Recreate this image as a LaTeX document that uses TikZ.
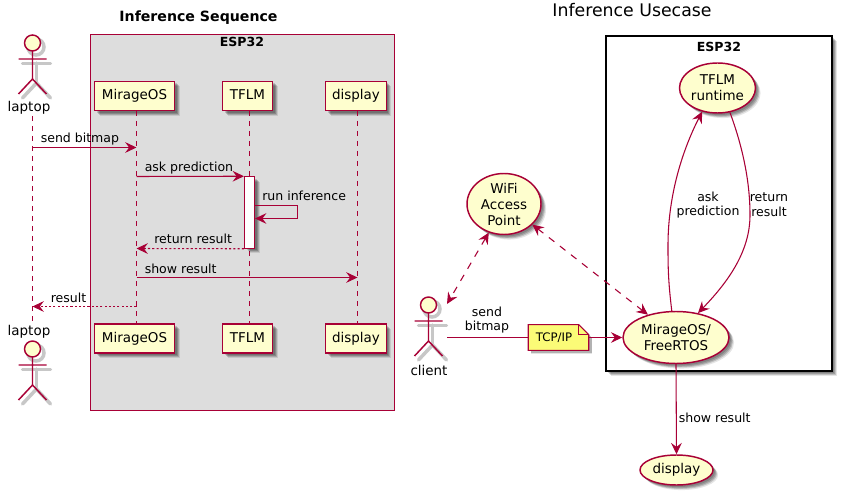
\documentclass[tikz,border=0pt]{standalone}
\usepackage{fontspec}
\setmainfont{DejaVu Sans}
\usetikzlibrary{arrows.meta,shapes.geometric,shadows,calc}
\definecolor{plum}{HTML}{A80036}
\definecolor{cream}{HTML}{FEFECE}
\definecolor{notey}{HTML}{FBFB77}
\definecolor{boxgray}{HTML}{DDDDDD}
\newcommand{\fpart}{\fontsize{10.1pt}{12pt}\selectfont}
\newcommand{\fmsg}{\fontsize{9.4pt}{11pt}\selectfont}
\tikzset{
  softshadow/.style={
    general shadow={shadow xshift=1.5pt,shadow yshift=-1.5pt,fill=black,opacity=.16},
    general shadow={shadow xshift=2.3pt,shadow yshift=-2.3pt,fill=black,opacity=.18},
    general shadow={shadow xshift=3pt,shadow yshift=-3pt,fill=black,opacity=.16},
    general shadow={shadow xshift=3.8pt,shadow yshift=-3.8pt,fill=black,opacity=.10}},
  tip/.style={-{Stealth[length=8.5pt,width=8pt,inset=3pt]}},
  bitip/.style={{Stealth[length=8.5pt,width=8pt,inset=3pt]}-{Stealth[length=8.5pt,width=8pt,inset=3pt]}},
  seqline/.style={draw=plum,line width=.8pt},
  lifeline/.style={draw=plum,line width=.75pt,dash pattern=on 3.75pt off 3.75pt},
  retline/.style={draw=plum,line width=.8pt,dash pattern=on 1.6pt off 1.6pt},
  useline/.style={draw=plum,line width=.8pt},
  usedash/.style={draw=plum,line width=.8pt,dash pattern=on 5.25pt off 5.25pt},
  partbox/.style={draw=plum,fill=cream,line width=1.1pt,softshadow,inner sep=0pt,font=\fpart,text height=7.9pt,text depth=2.2pt},
  usecase/.style={ellipse,draw=plum,fill=cream,line width=1.1pt,softshadow,inner sep=0pt,font=\fpart,align=center},
  msgtext/.style={inner sep=0pt,anchor=base west,font=\fmsg,text=black},
  edgetext/.style={inner sep=0pt,anchor=center,font=\fmsg,text=black,align=center},
  acttext/.style={inner sep=0pt,anchor=base,font=\fpart,text=black},
  actorpic/.pic={
    \begin{scope}[black!22,line width=2.6pt,line cap=round]
      \draw (3.5,-4) circle[radius=8];
      \draw (4,12) -- (4,32);
      \draw (-10,12.5) -- (18,12.5);
      \draw (4,32) -- (-10,47);
      \draw (4,32) -- (18,47);
    \end{scope}
    \draw[plum,fill=cream,line width=1.1pt] (0,-8) circle[radius=8];
    \draw[plum,line width=1.1pt] (0,0) -- (0,28) (-14,8) -- (14,8) (0,28) -- (-14,43) (0,28) -- (14,43);
  },
}
\begin{document}
\begin{tikzpicture}[x=.75pt,y=-.75pt]
\useasboundingbox (0,0) rectangle (842,495);
\fill[white] (0,0) rectangle (842,495);
%% ---------- sequence diagram ----------
\node[inner sep=0pt,font=\fontsize{10.6pt}{12pt}\selectfont\bfseries] (seqtitle) at (198.5,18) {Inference Sequence};
\path[fill=boxgray,draw=plum,line width=.8pt] (90.5,34.5) rectangle (394.5,410.5);
\node[inner sep=0pt,font=\fmsg\bfseries] (seqbox) at (242,42) {ESP32};
% participants
\node[partbox,minimum width=60pt,minimum height=22pt] (mtop) at (134.5,96) {MirageOS};
\node[partbox,minimum width=37.5pt,minimum height=22pt] (ttop) at (247.5,96) {TFLM};
\node[partbox,minimum width=45.5pt,minimum height=22pt] (dtop) at (356,96) {display};
\node[partbox,minimum width=60pt,minimum height=22pt] (mbot) at (134.5,338.5) {MirageOS};
\node[partbox,minimum width=37.5pt,minimum height=22pt] (tbot) at (247.5,338.5) {TFLM};
\node[partbox,minimum width=45.5pt,minimum height=22pt] (dbot) at (356,338.5) {display};
% actors
\pic at (32.5,51) {actorpic};
\node[acttext] (ltop) at (29,112) {laptop};
\node[acttext] (lbot) at (29,335) {laptop};
\pic at (32.5,357) {actorpic};
% lifelines
\coordinate (lla) at (32.5,116);
\coordinate (llb) at (32.5,321);
\coordinate (mla) at (136.5,111);
\coordinate (mlb) at (136.5,323.5);
\coordinate (tla) at (249.5,111);
\coordinate (tlb) at (249.5,323.5);
\coordinate (dla) at (357.5,111);
\coordinate (dlb) at (357.5,323.5);
\draw[lifeline] (lla) -- (llb);
\draw[lifeline] (mla) -- (mlb);
\draw[lifeline] (tla) -- (tlb);
\draw[lifeline] (dla) -- (dlb);
% activation
\node[draw=plum,fill=white,line width=.8pt,softshadow,inner sep=0pt,minimum width=7.5pt,minimum height=53.6pt] (act) at (249.5,212.5) {};
% messages
\coordinate (r1) at (0,147.5);
\coordinate (r2) at (0,176.5);
\coordinate (r3) at (0,205.5);
\coordinate (r3b) at (0,218.5);
\coordinate (r4) at (0,248.5);
\coordinate (r5) at (0,277.5);
\coordinate (r6) at (0,306.5);
\draw[seqline,tip] (lla |- r1) -- (mla |- r1);
\draw[seqline,tip] (mla |- r2) -- (act.north west);
\coordinate (loopa) at (act.east |- r3);
\coordinate (loopb) at (act.east |- r3b);
\draw[seqline,tip] (loopa) -- ++(42,0) |- (loopb);
\draw[retline,tip] (act.south west) -- (mla |- r4);
\draw[seqline,tip] (mla |- r5) -- (dla |- r5);
\draw[retline,tip] (mla |- r6) -- (lla |- r6);
\node[msgtext] (t1) at (40.5,143) {send bitmap};
\node[msgtext] (t2) at (144.5,172) {ask prediction};
\node[msgtext] (t3) at (262,201) {run inference};
\node[msgtext] (t4) at (154,243.5) {return result};
\node[msgtext] (t5) at (144.5,273) {show result};
\node[msgtext] (t6) at (50.5,302) {result};
%% ---------- use case diagram ----------
\node[inner sep=0pt,font=\fontsize{13pt}{16pt}\selectfont] (ucctitle) at (632,10) {Inference Usecase};
\node[draw=black,fill=white,line width=1.5pt,softshadow,inner sep=0pt,minimum width=170pt,minimum height=251pt] (esp) at (719,203.7) {};
\node[inner sep=0pt,font=\fmsg\bfseries] (esplabel) at (719,47) {ESP32};
\node[usecase,minimum width=57pt,minimum height=37.5pt] (tflm) at (717.5,88) {TFLM\\runtime};
\node[usecase,minimum width=55.5pt,minimum height=45.75pt] (wifi) at (504,204) {WiFi\\Access\\Point};
\node[usecase,minimum width=79.5pt,minimum height=39pt] (mirage) at (676,337.5) {MirageOS/\\FreeRTOS};
\node[usecase,minimum width=54.75pt,minimum height=22.5pt] (disp) at (676.5,470) {display};
\pic at (428.5,313) {actorpic};
\node[acttext] (client) at (429,375) {client};
\coordinate (clienta) at (447,304);
\coordinate (clientb) at (447,337.5);
% note
\node[inner sep=0pt,minimum width=45pt,minimum height=19pt] (tcp) at (558.5,337.5) {};
\path[fill=black,opacity=.3] ($(tcp.north west)+(3,3)$) -- ($(tcp.north east)+(-7,3)$) -- ($(tcp.north east)+(3,13)$) -- ($(tcp.south east)+(3,3)$) -- ($(tcp.south west)+(3,3)$) -- cycle;
\draw[plum,fill=notey,line width=.8pt] (tcp.north west) -- ($(tcp.north east)+(-10,0)$) -- ($(tcp.north east)+(0,10)$) -- (tcp.south east) -- (tcp.south west) -- cycle;
\draw[plum,line width=.8pt] ($(tcp.north east)+(-10,0)$) -- ($(tcp.north east)+(-10,10)$) -- ($(tcp.north east)+(0,10)$);
\node[inner sep=0pt,font=\fontsize{8.8pt}{11pt}\selectfont] (tcptext) at (554,337.5) {TCP/IP};
% connectors
\draw[usedash,bitip] (wifi.242.7) -- (clienta);
\draw[usedash,bitip] (wifi.-36.9) -- (mirage.141);
\draw[useline] (clientb) -- (tcp.west);
\draw[useline,tip] (tcp.east) -- (mirage.west);
\draw[useline,tip] (mirage.99) .. controls (668,280) and (668,265) .. (668,245) .. controls (668,200) and (680,155) .. (tflm.237);
\draw[useline,tip] (tflm.-63) .. controls (742,145) and (750,180) .. (750,215) .. controls (750,250) and (730,280) .. (mirage.48);
\draw[useline,tip] (mirage.south) -- (disp.north);
\node[edgetext] (l1) at (487,320) {send\\bitmap};
\node[edgetext] (l2) at (708,205) {ask\\prediction};
\node[edgetext] (l3) at (769,205) {return\\result};
\node[msgtext] (l4) at (678.5,422) {show result};
\end{tikzpicture}
\end{document}
